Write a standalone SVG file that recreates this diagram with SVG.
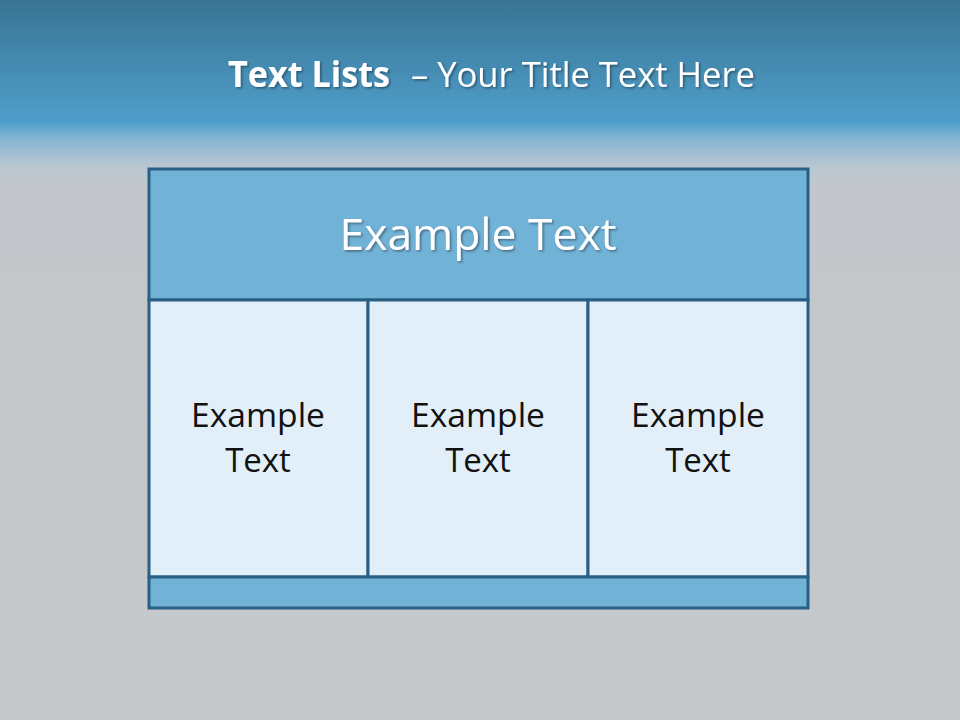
<svg xmlns="http://www.w3.org/2000/svg" width="960" height="720" viewBox="0 0 960 720">
<defs>
<linearGradient id="bg" x1="0" y1="0" x2="0" y2="1">
<stop offset="0" stop-color="#397494"/>
<stop offset="0.17" stop-color="#4f9fcb"/>
<stop offset="0.19" stop-color="#80b3d0"/>
<stop offset="0.23" stop-color="#b8c7d2"/>
<stop offset="0.26" stop-color="#c3c7cb"/>
<stop offset="1" stop-color="#c5c9cc"/>
</linearGradient>
<filter id="sh" x="-10%" y="-10%" width="120%" height="130%">
<feDropShadow dx="1.5" dy="1.5" stdDeviation="1" flood-color="#000" flood-opacity="0.4"/>
</filter>
</defs>
<style>
.box{stroke:#2a5f85;stroke-width:3}
.hdr{fill:#71b2d7}
.cell{fill:#e3eff8}
.ct{font-family:"Open Sans","Liberation Sans",sans-serif;font-size:33px;fill:#111;text-anchor:middle}
.tt{font-family:"Open Sans","Liberation Sans",sans-serif;fill:#fff}
</style>
<rect x="0" y="0" width="960" height="720" fill="url(#bg)"/>
<g filter="url(#sh)">
<text class="tt" x="228" y="87" font-weight="bold" font-size="35" textLength="162" lengthAdjust="spacingAndGlyphs">Text Lists</text>
<text class="tt" x="411" y="87" font-size="34" textLength="344" lengthAdjust="spacingAndGlyphs">– Your Title Text Here</text>
</g>
<g id="header">
<rect class="box hdr" x="149" y="169" width="659" height="131"/>
<text x="478" y="250" text-anchor="middle" font-family="Open Sans, Liberation Sans, sans-serif" font-size="44" textLength="277" lengthAdjust="spacingAndGlyphs" fill="#fff" filter="url(#sh)">Example Text</text>
</g>
<g id="col1">
<rect class="box cell" x="149" y="300" width="219" height="277"/>
<text class="ct" x="258" y="427" textLength="134" lengthAdjust="spacingAndGlyphs">Example</text>
<text class="ct" x="258" y="472">Text</text>
</g>
<g id="col2">
<rect class="box cell" x="368" y="300" width="220" height="277"/>
<text class="ct" x="478" y="427" textLength="134" lengthAdjust="spacingAndGlyphs">Example</text>
<text class="ct" x="478" y="472">Text</text>
</g>
<g id="col3">
<rect class="box cell" x="588" y="300" width="220" height="277"/>
<text class="ct" x="698" y="427" textLength="134" lengthAdjust="spacingAndGlyphs">Example</text>
<text class="ct" x="698" y="472">Text</text>
</g>
<g id="footer">
<rect class="box hdr" x="149" y="577" width="659" height="31"/>
</g>
<g id="connectors"/>
</svg>
